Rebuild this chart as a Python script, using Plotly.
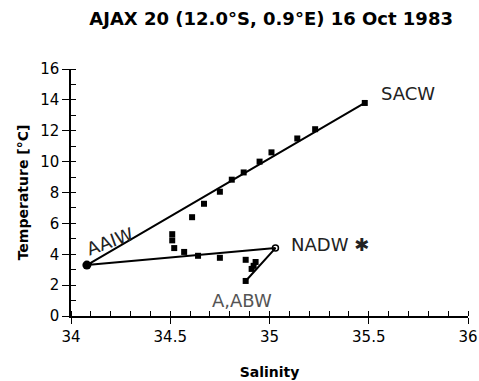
import plotly.graph_objects as go

# Observed CTD points (salinity, temperature)
obs_salinity = [35.48, 35.23, 35.14, 35.01, 34.95, 34.87, 34.81, 34.75, 34.67, 34.61,
                34.51, 34.51, 34.52, 34.57, 34.64, 34.75, 34.88, 34.93, 34.92, 34.91, 34.88]
obs_temperature = [13.8, 12.1, 11.5, 10.6, 10.0, 9.3, 8.83, 8.05, 7.27, 6.4,
                   5.3, 4.9, 4.4, 4.15, 3.9, 3.77, 3.64, 3.5, 3.25, 3.05, 2.27]

# Water mass end members
wm_names = ["SACW", "AAIW", "NADW", "AABW"]
wm_salinity = [35.48, 34.08, 35.03, 34.88]
wm_temperature = [13.8, 3.3, 4.4, 2.27]

# Mixing lines: SACW-AAIW-NADW-AABW
mix_order = ["SACW", "AAIW", "NADW", "AABW"]
mix_s = [wm_salinity[wm_names.index(n)] for n in mix_order]
mix_t = [wm_temperature[wm_names.index(n)] for n in mix_order]

fig = go.Figure()
fig.add_trace(go.Scatter(x=mix_s, y=mix_t, mode="lines",
                         line=dict(color="black", width=2), hoverinfo="skip"))
fig.add_trace(go.Scatter(x=obs_salinity, y=obs_temperature, mode="markers",
                         marker=dict(symbol="square", size=6, color="black")))
fig.add_trace(go.Scatter(x=[wm_salinity[1]], y=[wm_temperature[1]], mode="markers",
                         marker=dict(symbol="circle", size=9, color="black")))
fig.add_trace(go.Scatter(x=[wm_salinity[2]], y=[wm_temperature[2]], mode="markers",
                         marker=dict(symbol="circle-open", size=6, color="black",
                                     line=dict(width=1.5))))

hand = dict(family="DejaVu Sans", size=18, color="#222")
fig.add_annotation(x=35.55, y=14.4, text="SACW", showarrow=False, xanchor="left", font=hand)
fig.add_annotation(x=34.05, y=4.8, text="AAIW", showarrow=False, xanchor="left",
                   textangle=-20, font=hand)
fig.add_annotation(x=35.1, y=4.6, text="NADW ✱", showarrow=False, xanchor="left", font=hand)
fig.add_annotation(x=34.7, y=1.0, text="A,ABW", showarrow=False, xanchor="left",
                   font=dict(family="DejaVu Sans", size=18, color="#555"))

fig.update_layout(
    width=479, height=381,
    margin=dict(l=71, r=11, t=69, b=65),
    paper_bgcolor="white", plot_bgcolor="white",
    showlegend=False,
    title=dict(text="<b>AJAX 20 (12.0°S, 0.9°E) 16 Oct 1983</b>",
               x=0.566, xanchor="center", y=0.952, yanchor="middle",
               font=dict(family="DejaVu Sans", size=18, color="black")),
    font=dict(family="DejaVu Sans", color="black"),
)
fig.update_xaxes(range=[34, 36], tickvals=[34, 34.5, 35, 35.5, 36],
                 ticktext=["34", "34.5", "35", "35.5", "36"],
                 showline=True, linecolor="black", linewidth=1.5,
                 ticks="outside", ticklen=6, tickcolor="black",
                 minor=dict(dtick=0.1, ticks="inside", ticklen=5, tickcolor="black"),
                 showgrid=False, zeroline=False, automargin=False,
                 tickfont=dict(size=15),
                 title=dict(text="<b>Salinity</b>", font=dict(size=14), standoff=22))
fig.update_yaxes(range=[0, 16], dtick=2,
                 showline=True, linecolor="black", linewidth=1.5,
                 ticks="outside", ticklen=7, tickcolor="black",
                 minor=dict(dtick=1, ticks="inside", ticklen=5, tickcolor="black"),
                 showgrid=False, zeroline=False, automargin=False,
                 tickfont=dict(size=15),
                 title=dict(text="<b>Temperature [°C]</b>", font=dict(size=14), standoff=8))

fig.write_html("out.html", config={"displayModeBar": False},
               post_script="document.body.style.margin='0';")
